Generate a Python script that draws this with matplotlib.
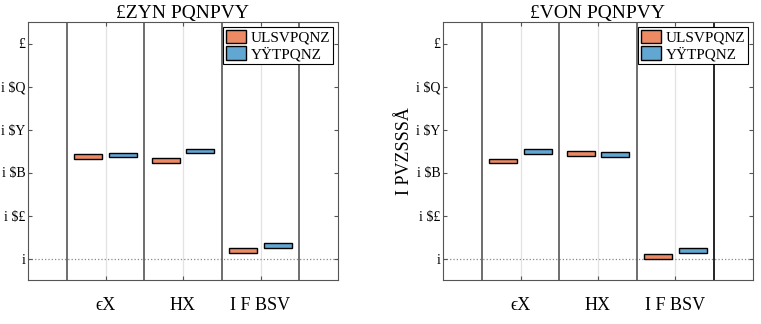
import matplotlib.pyplot as plt
import numpy as np

plt.rcParams['font.family'] = ['Liberation Serif', 'DejaVu Serif']

# group labels and values
categories = ['ϵX', 'HX', 'I F BSV']
group_pos = [2, 4, 6]
left_orange = [0.473, 0.456, 0.037]
left_blue = [0.481, 0.500, 0.060]
right_orange = [0.453, 0.490, 0.011]
right_blue = [0.498, 0.484, 0.036]
yticks = [0, 0.2, 0.4, 0.6, 0.8, 1.0]
ytick_labels = ['i', 'i $£', 'i $B', 'i $Y', 'i $Q', '£']
titles = ['£ZYN PQNPVY', '£VON PQNPVY']
legend_labels = ['ULSVPQNZ', 'YŸTPQNZ']
right_ylabel = 'I PVZSSSÅ'

orange = '#EC8A64'
blue = '#62A6D2'


def draw(ax, vals_o, vals_b, title, last_black=False):
	x = np.array(group_pos)
	h = 0.022
	ax.bar(x - 0.45, h, bottom=np.array(vals_o) - h / 2, width=0.72,
		color=orange, edgecolor='black', linewidth=1.0, label=legend_labels[0], zorder=3)
	ax.bar(x + 0.45, h, bottom=np.array(vals_b) - h / 2, width=0.72,
		color=blue, edgecolor='black', linewidth=1.0, label=legend_labels[1], zorder=3)
	for xv in group_pos:
		ax.axvline(xv, color='#e2e2e2', lw=0.9, zorder=1)
	for xv in [1, 3, 5, 7]:
		c = 'black' if (last_black and xv == 7) else '#555555'
		ax.axvline(xv, color=c, lw=1.2, zorder=2)
	ax.axhline(0, color='#888888', lw=0.9, ls=':', zorder=1)
	ax.set_xlim(0, 8)
	ax.set_ylim(-0.1, 1.1)
	ax.set_xticks(group_pos)
	ax.set_xticklabels(categories, fontsize=13)
	ax.set_yticks(yticks)
	ax.set_yticklabels(ytick_labels, fontsize=10)
	ax.tick_params(direction='in', top=True, right=True, length=3, color='#555555')
	ax.tick_params(axis='x', pad=12)
	ax.tick_params(axis='y', pad=2)
	for s in ax.spines.values():
		s.set_color('#555555')
	ax.set_title(title, fontsize=14, pad=3)
	leg = ax.legend(loc='upper right', fontsize=11, fancybox=False, framealpha=1,
		edgecolor='black', handlelength=1.3, handleheight=1.0, handletextpad=0.3,
		borderpad=0.2, labelspacing=0.1, borderaxespad=0.3)
	leg.get_frame().set_linewidth(0.8)


fig = plt.figure(figsize=(7.61, 3.24), dpi=100)
ax1 = fig.add_axes([28 / 761, 44 / 324, 310 / 761, 258 / 324])
ax2 = fig.add_axes([443 / 761, 44 / 324, 310 / 761, 258 / 324])

draw(ax1, left_orange, left_blue, titles[0])
draw(ax2, right_orange, right_blue, titles[1], last_black=True)
ax2.set_ylabel(right_ylabel, fontsize=13, labelpad=2)

fig.savefig('out.png', dpi=100)
